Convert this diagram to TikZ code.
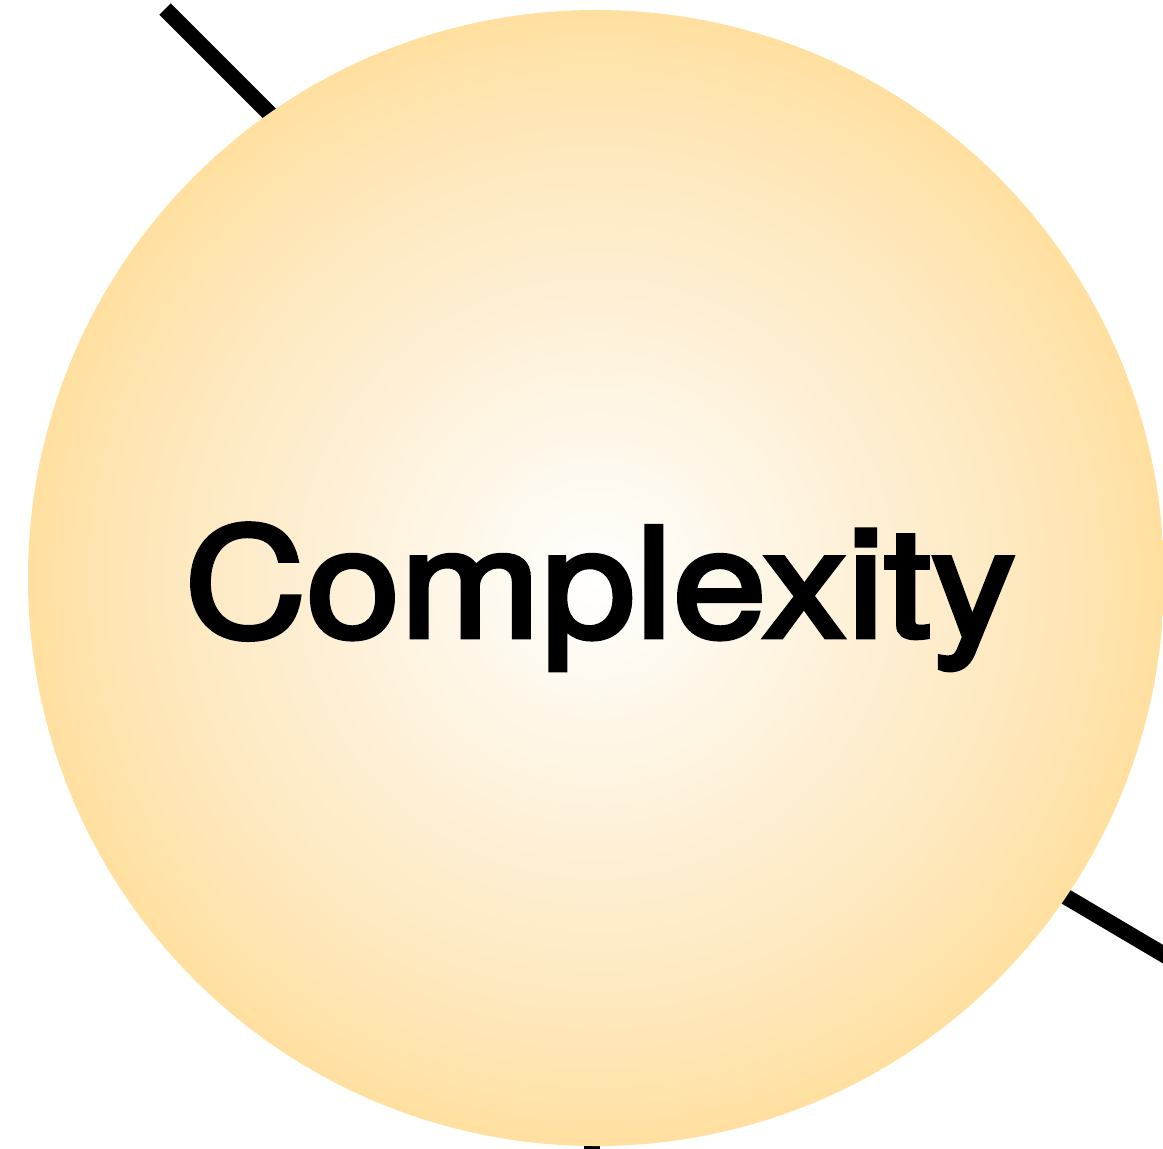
\documentclass[tikz,border=0pt]{standalone}
\usepackage{fontspec}
\setmainfont{TeX Gyre Heros}
\newfontface\wordface{TeX Gyre Heros}[FakeBold=3]
\usetikzlibrary{positioning}

\definecolor{ballA}{RGB}{254,245,227}
\definecolor{ballB}{RGB}{254,235,200}
\definecolor{ballC}{RGB}{254,228,176}
\definecolor{ballEdge}{RGB}{255,224,160}
\pgfdeclareradialshading{softball}{\pgfpoint{0bp}{0bp}}{%
  color(0bp)=(white); color(8bp)=(ballA); color(16bp)=(ballB);
  color(22bp)=(ballC); color(25bp)=(ballEdge); color(100bp)=(ballEdge)}

\tikzset{
  link/.style={line width=16pt, black},
  bigball/.style={circle, minimum size=1136pt, inner sep=0pt, shading=softball},
  bigword/.style={font=\wordface\fontsize{152}{152}\selectfont, inner sep=0pt,
    anchor=base, xscale=1.11, transform shape}
}

\begin{document}
\begin{tikzpicture}[x=1pt, y=-1pt]
  \useasboundingbox (0,0) rectangle (1163,1149);
  \clip (0,0) rectangle (1163,1149);

  % loose ends of the links
  \coordinate (nw) at (165,9);
  \coordinate (nwin) at (330,174);
  \coordinate (se) at (1200,976);
  \coordinate (sein) at (980,846);
  \coordinate (s) at (592,1175);
  \coordinate (sin) at (592,1080);

  \draw[link] (nw) -- (nwin);
  \draw[link] (se) -- (sein);
  \draw[link] (s) -- (sin);

  % the ball
  \node[bigball] (cplx) at (596,578) {};
  \node[bigword] (word) at (600,637) {Complexity};
\end{tikzpicture}
\end{document}
